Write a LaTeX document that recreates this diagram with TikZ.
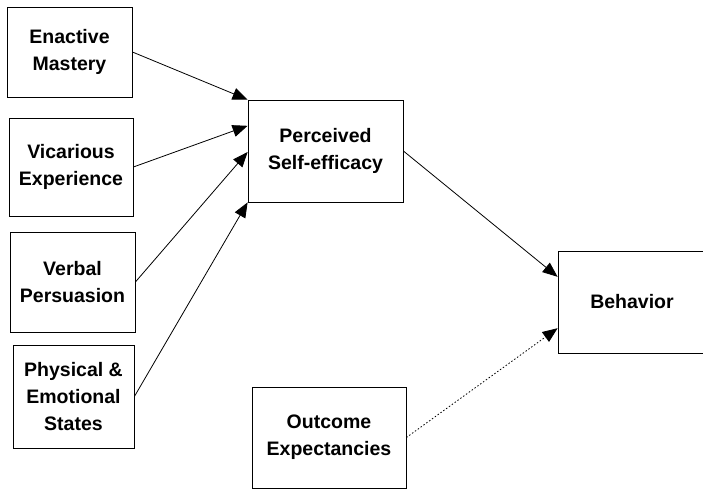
\documentclass[tikz,border=0pt]{standalone}
\usepackage{fontspec}
\setmainfont{Liberation Sans}
\usetikzlibrary{arrows.meta,calc}
\tikzset{
  box/.style={draw=black, line width=0.8pt, align=center, inner sep=0pt,
    font=\fontsize{19.5}{27}\selectfont\bfseries},
  link/.style={line width=0.8pt, -{Triangle[length=15pt,width=12pt]}},
  weaklink/.style={link, dash pattern=on 1.5pt off 2pt}
}
\begin{document}
\begin{tikzpicture}[x=1pt,y=-1pt]
  \clip (0,0) rectangle (703,489);
  \fill[white] (0,0) rectangle (703,489);
  % sources of self-efficacy
  \node[box, minimum width=125pt, minimum height=90pt]  (em)  at (69.5,52)   {Enactive\\Mastery};
  \node[box, minimum width=124pt, minimum height=98pt]  (ve)  at (71,167)    {Vicarious\\Experience};
  \node[box, minimum width=125pt, minimum height=100pt] (vp)  at (72.5,282)  {Verbal\\Persuasion};
  \node[box, minimum width=121pt, minimum height=103pt] (pes) at (73.5,396.5){Physical \&\\Emotional\\States};
  % central construct and outcomes
  \node[box, minimum width=155pt, minimum height=102pt] (pse) at (325.5,151) {Perceived\\Self-efficacy};
  \node[box, minimum width=148pt, minimum height=102pt] (beh) at (632,302)   {Behavior};
  \node[box, minimum width=154pt, minimum height=101pt] (oe)  at (329,437.5) {Outcome\\Expectancies};
  % connectors
  \draw[link] (em.east)  -- (pse.north west);
  \draw[link] (ve.east)  -- ($(pse.north west)!0.255!(pse.south west)$);
  \draw[link] (vp.east)  -- ($(pse.north west)!0.51!(pse.south west)$);
  \draw[link] (pes.east) -- (pse.south west);
  \draw[link] (pse.east) -- ($(beh.north west)!0.255!(beh.south west)$);
  \draw[weaklink] (oe.east) -- ($(beh.north west)!0.755!(beh.south west)$);
\end{tikzpicture}
\end{document}
